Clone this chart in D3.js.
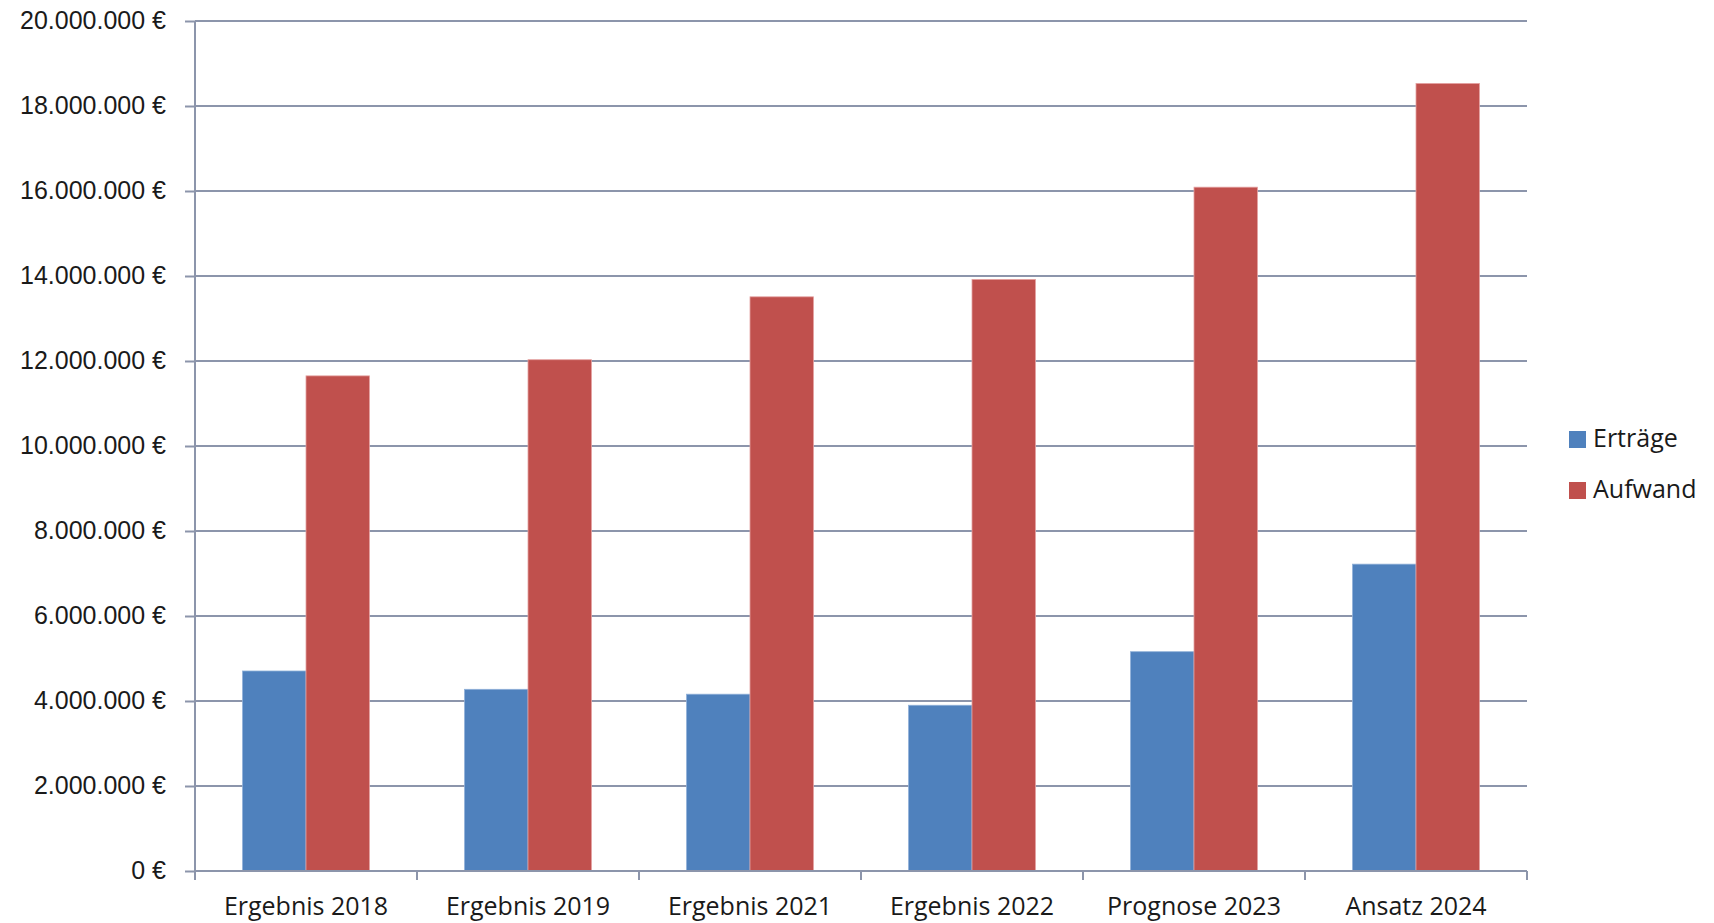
<!DOCTYPE html>
<html lang="de">
<head>
<meta charset="utf-8">
<title>Erträge und Aufwand</title>
<script src="https://cdn.jsdelivr.net/npm/d3@7"></script>
<style>
  html, body { margin: 0; padding: 0; background: #ffffff; }
  svg { display: block; font-family: "Open Sans", "Noto Sans", sans-serif; }
</style>
</head>
<body>
<svg id="chart" width="1714" height="923"></svg>
<script>
// Kategorien und Werte (in Euro)
const categories = ["Ergebnis 2018", "Ergebnis 2019", "Ergebnis 2021", "Ergebnis 2022", "Prognose 2023", "Ansatz 2024"];
const seriesNames = ["Erträge", "Aufwand"];
const ertraege = [4706000, 4275000, 4160000, 3900000, 5160000, 7220000];
const aufwand = [11650000, 12030000, 13510000, 13920000, 16090000, 18530000];
const yTicks = [0, 2000000, 4000000, 6000000, 8000000, 10000000, 12000000, 14000000, 16000000, 18000000, 20000000];
const seriesColors = ["#4f81bd", "#c0504d"];

const W = 1714, H = 923;
const margin = { top: 21, right: 187, bottom: 52, left: 195 };
const innerW = W - margin.left - margin.right;
const innerH = H - margin.top - margin.bottom;
const axisColor = "#8c95ab";
const textColor = "#1a1a1a";
const fontSize = 25;

const de = d3.formatLocale({ decimal: ",", thousands: ".", grouping: [3], currency: ["", " €"] });
const fmt = de.format("$,.0f");

const svg = d3.select("#chart");
const g = svg.append("g").attr("transform", `translate(${margin.left},${margin.top})`);

const x0 = d3.scaleBand().domain(categories).range([0, innerW]).padding(0);
const x1 = d3.scaleBand().domain(seriesNames).range([0, x0.bandwidth()]).paddingInner(0).paddingOuter(0.75);
const y = d3.scaleLinear().domain([0, 20000000]).range([innerH, 0]);

// horizontale Gitterlinien
g.append("g")
  .selectAll("line")
  .data(yTicks)
  .join("line")
  .attr("x1", 0)
  .attr("x2", innerW)
  .attr("y1", d => y(d))
  .attr("y2", d => y(d))
  .attr("stroke", axisColor)
  .attr("stroke-width", 2);

// Balken
const rows = categories.map((c, i) => ({ cat: c, values: [ertraege[i], aufwand[i]] }));
const groups = g.append("g")
  .selectAll("g")
  .data(rows)
  .join("g")
  .attr("transform", d => `translate(${x0(d.cat)},0)`);

groups.selectAll("rect")
  .data(d => d.values.map((v, k) => ({ key: seriesNames[k], value: v, k })))
  .join("rect")
  .attr("x", d => x1(d.key))
  .attr("y", d => y(d.value))
  .attr("width", x1.bandwidth())
  .attr("height", d => innerH - y(d.value))
  .attr("fill", d => seriesColors[d.k])
  .attr("stroke", d => d.k === 0 ? "#8fb0d8" : "#e4a0a0")
  .attr("stroke-width", 0.8);

// y-Achse
const yAxis = d3.axisLeft(y)
  .tickValues(yTicks)
  .tickSize(10)
  .tickPadding(19)
  .tickFormat(d => fmt(d));

const yA = g.append("g").call(yAxis);
yA.select(".domain").remove();
yA.selectAll(".tick line").attr("stroke", axisColor).attr("stroke-width", 2);
yA.selectAll(".tick text")
  .attr("fill", textColor)
  .attr("font-size", fontSize)
  .attr("dy", "0.28em");

// vertikale Achsenlinie
g.append("line")
  .attr("x1", 0).attr("x2", 0)
  .attr("y1", 0).attr("y2", innerH + 9)
  .attr("stroke", axisColor)
  .attr("stroke-width", 2);

// x-Achse mit Teilstrichen an den Kategoriegrenzen
g.append("line")
  .attr("x1", 0).attr("x2", innerW)
  .attr("y1", innerH).attr("y2", innerH)
  .attr("stroke", axisColor)
  .attr("stroke-width", 2);

const boundaries = categories.map(c => x0(c)).concat([x0(categories[categories.length - 1]) + x0.bandwidth()]);
g.append("g")
  .selectAll("line")
  .data(boundaries)
  .join("line")
  .attr("x1", d => d).attr("x2", d => d)
  .attr("y1", innerH).attr("y2", innerH + 9)
  .attr("stroke", axisColor)
  .attr("stroke-width", 2);

g.append("g")
  .selectAll("text")
  .data(categories)
  .join("text")
  .attr("x", d => x0(d) + x0.bandwidth() / 2)
  .attr("y", innerH + 44)
  .attr("text-anchor", "middle")
  .attr("fill", textColor)
  .attr("font-size", fontSize)
  .text(d => d);

// Legende
const legend = svg.append("g").attr("transform", "translate(1569,431)");
const items = legend.selectAll("g")
  .data(seriesNames)
  .join("g")
  .attr("transform", (d, i) => `translate(0,${i * 51})`);
items.append("rect")
  .attr("width", 17)
  .attr("height", 17)
  .attr("fill", (d, i) => seriesColors[i]);
items.append("text")
  .attr("x", 24)
  .attr("y", 16)
  .attr("fill", textColor)
  .attr("font-size", fontSize)
  .text(d => d);
</script>
</body>
</html>
